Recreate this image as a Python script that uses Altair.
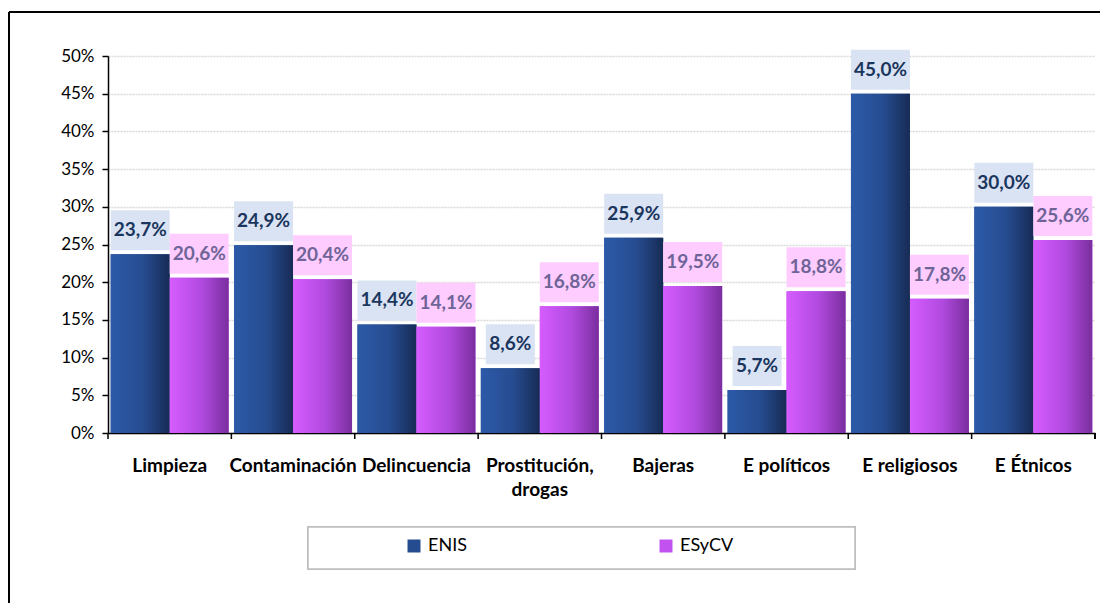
import altair as alt
import pandas as pd

categories = ["Limpieza", "Contaminación", "Delincuencia", "Prostitución, drogas",
              "Bajeras", "E políticos", "E religiosos", "E Étnicos"]
series_names = ["ENIS", "ESyCV"]
enis_values = [23.7, 24.9, 14.4, 8.6, 25.9, 5.7, 45.0, 30.0]
esycv_values = [20.6, 20.4, 14.1, 16.8, 19.5, 18.8, 17.8, 25.6]
y_ticks = [0, 5, 10, 15, 20, 25, 30, 35, 40, 45, 50]

rows = []
for c, a, b in zip(categories, enis_values, esycv_values):
    rows.append({"cat": c, "series": "ENIS", "value": a})
    rows.append({"cat": c, "series": "ESyCV", "value": b})
df = pd.DataFrame(rows)
df["label"] = df["value"].map(lambda v: f"{v:.1f}".replace(".", ",") + "%")
df["len"] = df["label"].str.len().astype(str)
cat_df = pd.DataFrame({"cat": categories})

W, H = 987, 377
FONT = "Lato"

grad_enis = alt.Gradient(gradient="linear", x1=0, x2=1, y1=0, y2=0, stops=[
    alt.GradientStop(color="#2c5aa8", offset=0),
    alt.GradientStop(color="#264c90", offset=0.55),
    alt.GradientStop(color="#172b55", offset=1)])
grad_esycv = alt.Gradient(gradient="linear", x1=0, x2=1, y1=0, y2=0, stops=[
    alt.GradientStop(color="#d65cff", offset=0),
    alt.GradientStop(color="#b04ade", offset=0.55),
    alt.GradientStop(color="#7a2e9e", offset=1)])

x_enc = alt.X("cat:N", sort=categories, title=None,
              scale=alt.Scale(paddingInner=0, paddingOuter=0))
xo_enc = alt.XOffset("series:N", scale=alt.Scale(domain=series_names, paddingInner=0, paddingOuter=0.046))
y_enc = alt.Y("value:Q", title=None,
              scale=alt.Scale(domain=[0, 50], nice=False),
              axis=alt.Axis(values=y_ticks, labelExpr="datum.value + '%'"))

base = alt.Chart(df)

legend_bars = base.mark_bar().encode(
    x=x_enc, xOffset=xo_enc, y=y_enc,
    color=alt.Color("series:N", scale=alt.Scale(domain=series_names, range=["#264c90", "#c252f0"]),
                    legend=alt.Legend(orient="none", legendX=297, legendY=481, direction="horizontal",
                                      title=None, symbolType="square", symbolSize=169,
                                      symbolStrokeWidth=0, labelFontSize=18, labelFont=FONT,
                                      labelColor="#000000", columnPadding=190, labelOffset=5,
                                      padding=0)))

def bars(name, grad):
    return base.transform_filter(alt.datum.series == name).mark_bar(color=grad).encode(
        x=x_enc, xOffset=xo_enc, y=y_enc)

w5, w4 = 59, 49
shape_scale = alt.Scale(domain=["5", "4"], range=[
    "M-1,-0.678H1V0.678H-1Z",
    f"M-{w4/w5:.3f},-0.678H{w4/w5:.3f}V0.678H-{w4/w5:.3f}Z"])

def boxes(name, fill):
    return base.transform_filter(alt.datum.series == name).mark_point(
        filled=True, fill=fill, opacity=1, size=w5 * w5, strokeWidth=0, yOffset=-24).encode(
        x=x_enc, xOffset=xo_enc, y=y_enc,
        shape=alt.Shape("len:N", scale=shape_scale, legend=None))

def labels(name, col):
    return base.transform_filter(alt.datum.series == name).mark_text(
        font=FONT, fontSize=19, fontWeight="bold", color=col, yOffset=-24,
        baseline="middle", align="center").encode(
        x=x_enc, xOffset=xo_enc, y=y_enc, text="label:N")

ticks = alt.Chart(cat_df).mark_rule(color="#000000", strokeWidth=1.5).encode(
    x=alt.X("cat:N", sort=categories, title=None, bandPosition=0,
            scale=alt.Scale(paddingInner=0, paddingOuter=0)),
    y=alt.value(H), y2=alt.value(H + 6))
end_tick = alt.Chart(cat_df).mark_rule(color="#000000", strokeWidth=1.5).encode(
    x=alt.value(W), y=alt.value(H), y2=alt.value(H + 6))

legend_box = alt.Chart(cat_df).mark_rect(fill="#ffffff", stroke="#bfbfbf", strokeWidth=1.5).encode(
    x=alt.value(200), x2=alt.value(747), y=alt.value(471), y2=alt.value(513))

frame_top = alt.Chart(cat_df).mark_rule(color="#000000", strokeWidth=2).encode(
    x=alt.value(-99), x2=alt.value(1010), y=alt.value(-44))
frame_left = alt.Chart(cat_df).mark_rule(color="#000000", strokeWidth=2).encode(
    x=alt.value(-99), y=alt.value(-44), y2=alt.value(570))

chart = alt.layer(
    frame_top, frame_left, legend_box,
    legend_bars, bars("ENIS", grad_enis), bars("ESyCV", grad_esycv),
    boxes("ENIS", "#dae3f3"), boxes("ESyCV", "#ffccff"),
    labels("ENIS", "#1a365e"), labels("ESyCV", "#6e6497"),
    ticks, end_tick,
).properties(
    width=W, height=H,
    autosize=alt.AutoSizeParams(type="none"),
    padding={"left": 100, "top": 48, "right": 5, "bottom": 170},
).configure_view(strokeWidth=0).configure_axisX(
    labelFont=FONT, labelFontSize=19, labelFontWeight="bold", labelColor="#000000",
    labelAngle=0, labelPadding=23, labelLineHeight=24, ticks=False,
    domainColor="#000000", domainWidth=1.5, grid=False, labelLimit=200,
    labelExpr="datum.label == 'Prostitución, drogas' ? ['Prostitución,', 'drogas'] : datum.label",
).configure_axisY(
    labelFont=FONT, labelFontSize=17, labelColor="#000000", labelPadding=8,
    tickSize=6, tickColor="#000000", tickWidth=1.5,
    domainColor="#000000", domainWidth=1.5,
    grid=True, gridColor="#d9d9d9", gridWidth=1.5, gridDash=[2, 1],
)

chart.save("out.html", embed_options={"renderer": "svg", "actions": False})
